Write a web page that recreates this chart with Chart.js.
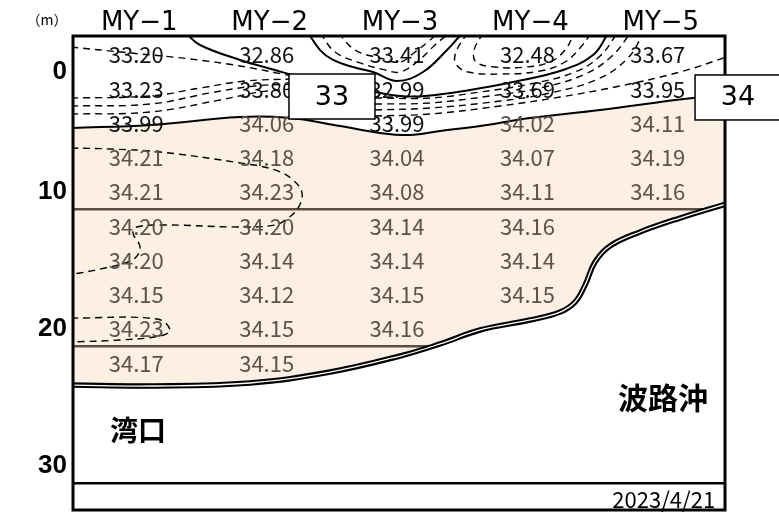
<!DOCTYPE html>
<html><head><meta charset="utf-8">
<script src="https://cdn.jsdelivr.net/npm/chart.js@4/dist/chart.umd.min.js"></script>
<style>html,body{margin:0;padding:0;background:#fff}</style>
</head><body>
<canvas id="c" width="779" height="517"></canvas>
<script>
// ---- data ----
const stations = [1, 2, 3, 4, 5];
const stationLabels = ['MY−1', 'MY−2', 'MY−3', 'MY−4', 'MY−5'];
const depths = [0, 2.5, 5, 7.5, 10, 12.5, 15, 17.5, 20, 22.5];
const depthTickValues = [1.25, 10, 20, 30];
const depthTickLabels = ['0', '10', '20', '30'];

const salMY1 = [33.20, 33.23, 33.99, 34.21, 34.21, 34.20, 34.20, 34.15, 34.23, 34.17];
const salMY2 = [32.86, 33.80, 34.06, 34.18, 34.23, 34.20, 34.14, 34.12, 34.15, 34.15];
const salMY3 = [33.41, 32.99, 33.99, 34.04, 34.08, 34.14, 34.14, 34.15, 34.16, null];
const salMY4 = [32.48, 33.69, 34.02, 34.07, 34.11, 34.16, 34.14, 34.15, null, null];
const salMY5 = [33.67, 33.95, 34.11, 34.19, 34.16, null, null, null, null, null];
const salinity = [salMY1, salMY2, salMY3, salMY4, salMY5];

// seabed profile [station position, depth m]
const seabed = [[0.5,24.09],[1.106,24.16],[1.873,23.94],[2.486,23.14],[3.023,21.97],[3.330,21.09],[3.637,20.07],[4.020,19.34],[4.250,18.76],[4.365,18.03],[4.442,16.79],[4.518,15.11],[4.633,13.94],[4.863,12.92],[5.170,11.90],[5.53,10.85]];

// contour lines [station position, depth m]
const contour34 = [[0.5,5.33],[1.106,5.11],[1.796,4.53],[2.179,4.60],[2.563,5.18],[2.869,5.69],[3.099,5.84],[3.330,5.55],[3.637,5.18],[4.020,4.60],[4.557,4.01],[5.270,3.14],[5.53,2.99]];
const contour33a = [[1.38,-1.6],[1.489,-0.73],[1.796,0.36],[2.064,1.09],[2.256,1.61],[2.563,2.19],[2.831,2.70],[3.023,2.99],[3.215,2.99],[3.560,2.55],[3.890,1.97],[4.273,1.09],[4.503,0],[4.62,-1.6]];
const contour33b = [[2.32,-1.6],[2.410,-0.36],[2.509,0.36],[2.663,0.88],[2.816,1.24],[3.000,1.90],[3.199,1.24],[3.383,-0.36],[3.50,-1.6]];
const contour332a = [[0.5,-0.58],[0.952,-0.15],[1.413,0.29],[1.796,0.80],[2.195,1.53]];
const contour334a = [[0.5,3.14],[1.106,2.99],[1.489,2.41],[1.834,1.90],[2.195,1.75]];
const contour336a = [[0.5,3.72],[1.106,3.58],[1.566,2.77],[1.911,2.26],[2.195,2.12]];
const contour338a = [[0.5,4.31],[1.106,4.16],[1.643,3.28],[1.949,2.70],[2.195,2.48]];
const contour332b = [[2.831,3.14],[3.253,3.14],[3.637,2.70],[4.020,2.12],[4.365,1.24],[4.557,0.07],[4.69,-1.6]];
const contour334b = [[2.831,3.58],[3.253,3.50],[3.713,2.99],[4.097,2.41],[4.442,1.39],[4.649,0.07],[4.79,-1.6]];
const contour336b = [[2.831,4.01],[3.253,3.87],[3.790,3.36],[4.174,2.77],[4.541,1.75],[4.771,0.22],[4.89,-1.6]];
const contour338b = [[2.831,4.45],[3.253,4.31],[3.790,3.72],[4.250,3.07],[4.710,2.26],[5.170,1.24],[5.553,0.07]];
const contour332c = [[2.41,-1.6],[2.525,-0.22],[2.717,0.58],[2.908,1.09],[3.023,1.24],[3.153,0.51],[3.291,-0.73],[3.40,-1.6]];
const contour334c = [[2.55,-1.6],[2.679,-0.36],[2.869,0.22],[3.023,0.51],[3.138,-0.22],[3.253,-1.09],[3.31,-1.6]];
const contour328 = [[3.54,-1.6],[3.452,-0.22],[3.452,0.66],[3.545,1.24],[3.790,1.39],[4.097,1.17],[4.288,0.51],[4.403,-0.51],[4.49,-1.6]];
const contour326 = [[3.66,-1.6],[3.591,-0.36],[3.606,0.51],[3.752,0.88],[3.981,0.88],[4.174,0.51],[4.288,-0.36],[4.36,-1.6]];
const contour342a = [[0.5,6.79],[0.799,6.86],[1.183,7.08],[1.796,7.88],[2.064,8.39],[2.202,9.12],[2.271,10.07],[2.241,11.17],[2.164,11.90],[2.064,12.41],[1.773,12.55],[1.236,12.41],[1.006,12.55],[0.975,12.99],[1.029,14.01],[0.999,14.74],[0.914,15.18],[0.761,15.55],[0.570,15.91],[0.5,15.99]];
const contour342b = [[0.5,19.20],[1.160,19.27],[1.259,20.07],[1.183,20.51],[0.876,20.80],[0.5,20.95]];

// layer boundaries
const layer1 = [[0.5,11.25],[5.41,11.25]];
const layer2 = [[0.5,21.25],[3.28,21.25]];
const bottomRow = [[0.5,31.25],[5.53,31.25]];

// contour labels
const contourLabelText = ['33', '34'];
const contourLabelX = [2.501, 5.615];
const contourLabelY = [3.03, 3.10];

// ---- chart ----
const pts = a => a.map(([x, y]) => ({x, y}));
const solidContours = [contour33a, contour33b];
const dashedContours = [contour332a, contour334a, contour336a, contour338a, contour332b, contour334b, contour336b, contour338b, contour332c, contour334c, contour328, contour326, contour342a, contour342b];

const datasets = [];
datasets.push({data: pts(seabed), borderWidth: 0, pointRadius: 0, tension: 0.4, fill: {target: 1}, backgroundColor: '#fcefe4', order: 20});
datasets.push({data: pts(contour34), borderColor: '#000', borderWidth: 2, pointRadius: 0, tension: 0.4, fill: false, order: 4});
[layer1, layer2].forEach(l => datasets.push({data: pts(l), borderColor: '#5e4e40', borderWidth: 2.5, pointRadius: 0, tension: 0, fill: false, order: 6}));
datasets.push({data: pts(bottomRow), borderColor: '#000', borderWidth: 2.5, pointRadius: 0, tension: 0, fill: false, order: 6});
solidContours.forEach(c => datasets.push({data: pts(c), borderColor: '#000', borderWidth: 2, pointRadius: 0, tension: 0.4, fill: false, order: 4}));
dashedContours.forEach(c => datasets.push({data: pts(c), borderColor: '#000', borderWidth: 1.4, borderDash: [7, 5], pointRadius: 0, tension: 0.4, fill: false, order: 5}));
datasets.push({data: pts(seabed), borderColor: '#000', borderWidth: 5.5, pointRadius: 0, tension: 0.4, fill: false, order: 2});
datasets.push({data: pts(seabed), borderColor: '#fff', borderWidth: 1.3, pointRadius: 0, tension: 0.4, fill: false, order: 1});

const valuesPlugin = {
  id: 'values',
  afterDatasetsDraw(chart) {
    const {ctx, scales: {x, y}} = chart;
    ctx.save();
    ctx.font = '22px "Noto Sans CJK JP"';
    ctx.textAlign = 'center';
    ctx.textBaseline = 'middle';
    salinity.forEach((col, i) => col.forEach((v, j) => {
      if (v == null) return;
      ctx.fillStyle = v >= 34 ? '#5d524a' : '#111';
      ctx.fillText(v.toFixed(2), x.getPixelForValue(stations[i]), y.getPixelForValue(depths[j]));
    }));
    ctx.restore();
  }
};

const overlayPlugin = {
  id: 'overlay',
  afterDraw(chart) {
    const {ctx, chartArea: a, scales: {x, y}} = chart;
    ctx.save();
    ctx.strokeStyle = '#000';
    ctx.lineWidth = 3;
    ctx.strokeRect(a.left, a.top, a.right - a.left, a.bottom - a.top);
    contourLabelText.forEach((t, i) => {
      const px = x.getPixelForValue(contourLabelX[i]);
      const py = y.getPixelForValue(contourLabelY[i]);
      ctx.fillStyle = '#fff';
      ctx.fillRect(px - 43, py - 22.5, 86, 45);
      ctx.lineWidth = 1.5;
      ctx.strokeRect(px - 43, py - 22.5, 86, 45);
      ctx.fillStyle = '#000';
      ctx.font = '27px "DejaVu Sans"';
      ctx.textAlign = 'center';
      ctx.textBaseline = 'middle';
      ctx.fillText(t, px, py + 1);
    });
    ctx.fillStyle = '#000';
    ctx.textBaseline = 'middle';
    ctx.font = 'bold 28px "Noto Sans CJK JP"';
    ctx.textAlign = 'left';
    ctx.fillText('湾口', x.getPixelForValue(0.799), y.getPixelForValue(27.37));
    ctx.font = 'bold 30px "Noto Sans CJK JP"';
    ctx.textAlign = 'right';
    ctx.fillText('波路沖', x.getPixelForValue(5.385), y.getPixelForValue(25.04));
    ctx.font = '22px "Noto Sans CJK JP"';
    ctx.fillText('2023/4/21', x.getPixelForValue(5.439), y.getPixelForValue(32.48));
    ctx.font = '14px "Noto Sans CJK JP"';
    ctx.textAlign = 'center';
    ctx.fillText('（m）', a.left - 26, a.top - 16);
    ctx.restore();
  }
};

new Chart(document.getElementById('c'), {
  type: 'line',
  data: {datasets},
  options: {
    responsive: false,
    devicePixelRatio: 1,
    animation: false,
    layout: {padding: {left: 0, top: 0, right: 54, bottom: 7}},
    plugins: {legend: {display: false}, tooltip: {enabled: false}},
    scales: {
      x: {
        type: 'linear', position: 'top', min: 0.515, max: 5.515,
        grid: {display: false, drawTicks: false},
        border: {display: false},
        afterBuildTicks: s => { s.ticks = stations.map(v => ({value: v})); },
        afterFit: s => { s.height = 36; s.paddingLeft = 0; s.paddingRight = 0; },
        ticks: {
          autoSkip: false, maxRotation: 0, padding: -3, labelOffset: 3,
          color: '#000', font: {family: '"DejaVu Sans"', size: 26},
          callback: (v, i) => stationLabels[i]
        }
      },
      y: {
        type: 'linear', reverse: true, min: -1.387, max: 33.21,
        grid: {display: false, drawTicks: false},
        border: {display: false},
        afterBuildTicks: s => { s.ticks = depthTickValues.map(v => ({value: v})); },
        afterFit: s => { s.width = 73; s.paddingTop = 0; s.paddingBottom = 0; },
        ticks: {
          autoSkip: false, padding: 6,
          color: '#000', font: {family: '"Liberation Sans"', size: 26, weight: 'bold'},
          callback: (v, i) => depthTickLabels[i]
        }
      }
    }
  },
  plugins: [valuesPlugin, overlayPlugin]
});
</script>
</body></html>
